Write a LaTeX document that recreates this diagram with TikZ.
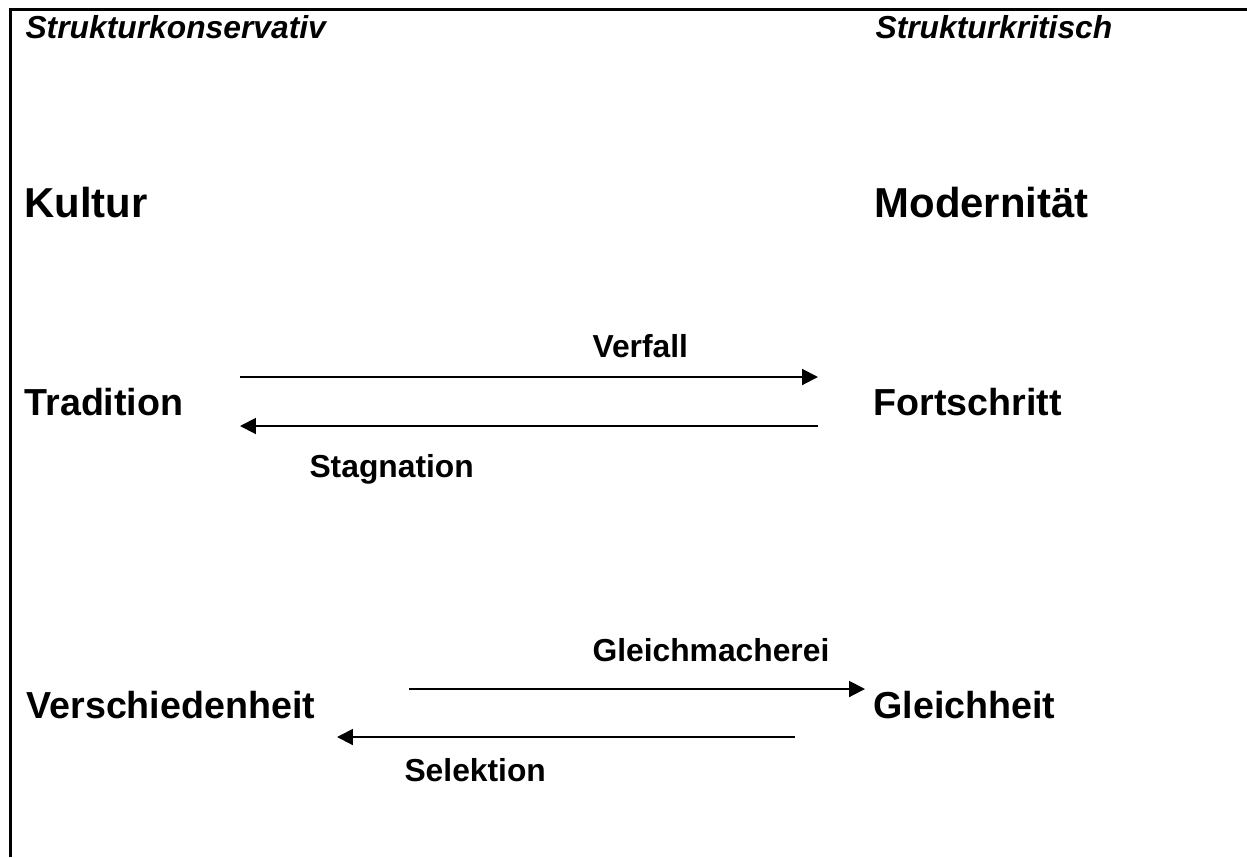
\documentclass[tikz,border=0pt]{standalone}
\usepackage{fontspec}
\setmainfont{Liberation Sans}
\usetikzlibrary{arrows.meta}
\tikzset{
  head/.style={anchor=base west, inner sep=0pt, font=\fontsize{12}{14}\selectfont\bfseries\itshape},
  pole/.style={anchor=base west, inner sep=0pt, font=\fontsize{15.8}{19}\selectfont\bfseries},
  term/.style={anchor=base west, inner sep=0pt, font=\fontsize{14.2}{17}\selectfont\bfseries},
  verb/.style={anchor=base west, inner sep=0pt, font=\fontsize{12}{14}\selectfont\bfseries},
  drift/.style={line width=0.75pt, -{Triangle[length=6pt,width=6pt]}}
}
\begin{document}
\begin{tikzpicture}[x=0.3774pt, y=-0.3774pt]
\useasboundingbox (0,0) rectangle (1247,857);
\draw[line width=0.9pt] (1247,9.5) -- (10.5,9.5) -- (10.5,857);

\node[head] (konservativ) at (25,38.5) {Strukturkonservativ};
\node[head] (kritisch) at (875,38.5) {Strukturkritisch};

\node[pole] (kultur) at (24,217) {Kultur};
\node[pole] (modernitaet) at (874,217) {Modernität};

% Tradition -- Fortschritt
\node[term] (tradition) at (24,415) {Tradition};
\node[term] (fortschritt) at (873,415) {Fortschritt};
\coordinate (v1) at (240,377);
\coordinate (v2) at (818,377);
\coordinate (s1) at (818,426);
\coordinate (s2) at (240,426);
\draw[drift] (v1) -- (v2);
\draw[drift] (s1) -- (s2);
\node[verb] (verfall) at (592,357) {Verfall};
\node[verb] (stagnation) at (309,477) {Stagnation};

% Verschiedenheit -- Gleichheit
\node[term] (verschiedenheit) at (26,718) {Verschiedenheit};
\node[term] (gleichheit) at (873,718) {Gleichheit};
\coordinate (g1) at (409,689);
\coordinate (g2) at (865,689);
\coordinate (e1) at (795,737);
\coordinate (e2) at (337,737);
\draw[drift] (g1) -- (g2);
\draw[drift] (e1) -- (e2);
\node[verb] (gleichmacherei) at (592,661) {Gleichmacherei};
\node[verb] (selektion) at (404,781) {Selektion};
\end{tikzpicture}
\end{document}
